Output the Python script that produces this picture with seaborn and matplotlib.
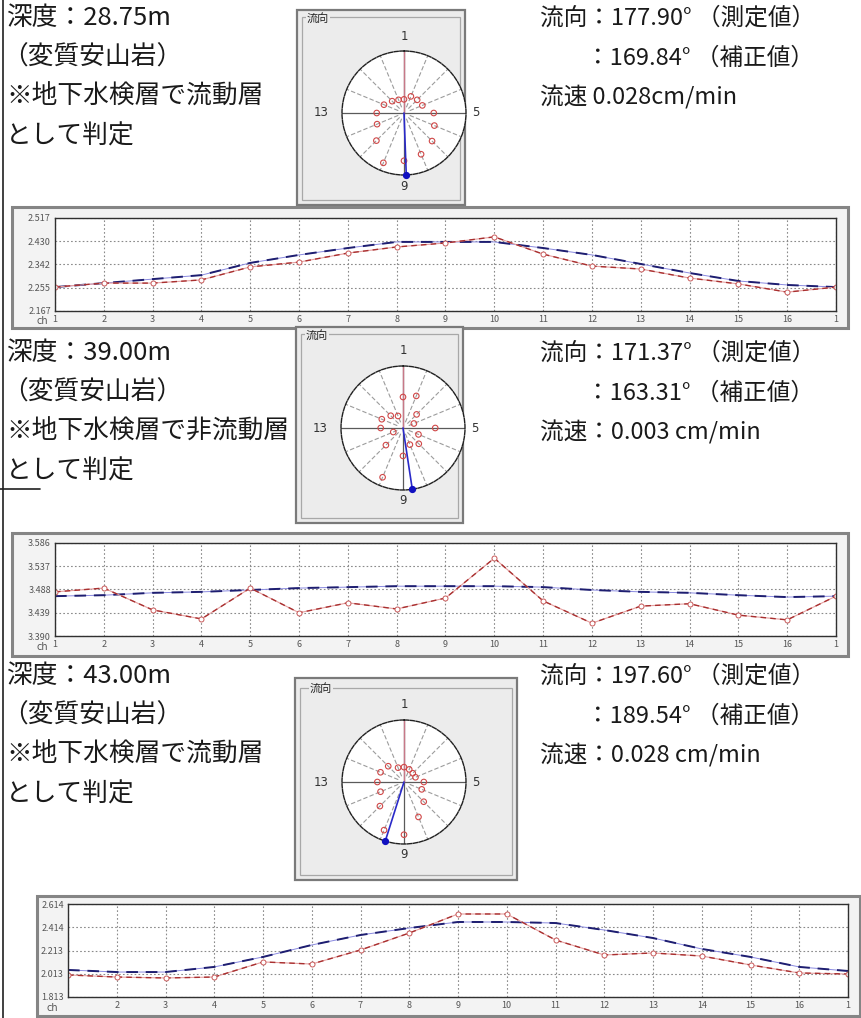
import numpy as np
import pandas as pd
import matplotlib
matplotlib.use("Agg")
import matplotlib.pyplot as plt
import seaborn as sns
from matplotlib.patches import Rectangle
from matplotlib.lines import Line2D

# ---------------------------------------------------------------- data
channel_labels = [str(c) for c in range(1, 17)] + ["1"]

# depth 28.75 m
red_1 = [2.257, 2.272, 2.272, 2.284, 2.333, 2.351, 2.385, 2.408, 2.423,
         2.446, 2.381, 2.336, 2.325, 2.291, 2.269, 2.238, 2.257]
blue_1 = [2.257, 2.272, 2.287, 2.302, 2.348, 2.378, 2.404, 2.427, 2.427,
          2.427, 2.404, 2.378, 2.344, 2.310, 2.280, 2.265, 2.257]
yticks_1 = [2.167, 2.255, 2.342, 2.430, 2.517]

# depth 39.00 m
red_2 = [3.483, 3.491, 3.445, 3.426, 3.491, 3.439, 3.460, 3.447, 3.470,
         3.554, 3.464, 3.417, 3.453, 3.458, 3.434, 3.424, 3.474]
blue_2 = [3.474, 3.476, 3.481, 3.483, 3.487, 3.491, 3.493, 3.495, 3.495,
          3.495, 3.493, 3.487, 3.483, 3.481, 3.476, 3.472, 3.474]
yticks_2 = [3.390, 3.439, 3.488, 3.537, 3.586]

# depth 43.00 m
red_3 = [2.003, 1.985, 1.977, 1.985, 2.115, 2.097, 2.218, 2.364, 2.528,
         2.528, 2.304, 2.175, 2.192, 2.166, 2.089, 2.020, 2.011]
blue_3 = [2.046, 2.028, 2.028, 2.072, 2.158, 2.261, 2.347, 2.407, 2.459,
          2.459, 2.450, 2.390, 2.321, 2.227, 2.158, 2.072, 2.037]
yticks_3 = [1.813, 2.013, 2.213, 2.414, 2.614]

# rose diagrams: relative response of channels 1-16 and flow direction
rose_1 = [0.22, 0.29, 0.30, 0.32, 0.48, 0.53, 0.64, 0.72,
          0.77, 0.87, 0.63, 0.47, 0.44, 0.35, 0.27, 0.23]
rose_2 = [0.50, 0.56, 0.31, 0.19, 0.52, 0.27, 0.36, 0.29,
          0.45, 0.86, 0.39, 0.17, 0.36, 0.37, 0.28, 0.21]
rose_3 = [0.24, 0.22, 0.20, 0.20, 0.32, 0.31, 0.45, 0.61,
          0.85, 0.84, 0.55, 0.41, 0.43, 0.41, 0.36, 0.25]
flow_measured = [177.90, 171.37, 197.60]
flow_corrected = [169.84, 163.31, 189.54]
flow_speed = ["0.028cm/min", "0.003 cm/min", "0.028 cm/min"]
speed_prefix = ["流速 ", "流速：", "流速："]

depths = ["28.75m", "39.00m", "43.00m"]
rock = "（変質安山岩）"
judgements = ["※地下水検層で流動層", "※地下水検層で非流動層", "※地下水検層で流動層"]
judge_tail = "として判定"
rose_title = "流向"
cardinal = ["1", "5", "9", "13"]

# ---------------------------------------------------------------- figure
sns.set_theme(style="white")
plt.rcParams["font.family"] = ["Noto Sans CJK JP", "DejaVu Sans"]

W, H = 862, 1018
fig = plt.figure(figsize=(W / 100, H / 100), dpi=100)
fig.patch.set_facecolor("white")


def frac(x0, y0, x1, y1):
    return [x0 / W, 1 - y1 / H, (x1 - x0) / W, (y1 - y0) / H]


def add_rect(x0, y0, x1, y1, **kw):
    r = Rectangle((x0 / W, 1 - y1 / H), (x1 - x0) / W, (y1 - y0) / H,
                  transform=fig.transFigure, **kw)
    fig.add_artist(r)
    return r


def ftext(x, y, s, **kw):
    return fig.text(x / W, 1 - y / H, s, **kw)


def fline(xs, ys, **kw):
    fig.add_artist(Line2D([x / W for x in xs], [1 - y / H for y in ys],
                          transform=fig.transFigure, **kw))


TXT_L = dict(fontsize=18.5, color="#1a1a1a", va="center", ha="left")
TXT_R = dict(fontsize=17, color="#1a1a1a", va="center", ha="left")


def draw_profile(box, plot, red, blue, yticks, ch_xy, label_first=True):
    add_rect(*box, facecolor="#f3f3f3", edgecolor="#858585", lw=2.2, zorder=-2)
    ax = fig.add_axes(frac(*plot))
    ax.set_facecolor("white")
    df = pd.DataFrame({"ch": np.arange(1, 18), "measured": red, "fitted": blue})
    sns.lineplot(data=df, x="ch", y="fitted", ax=ax, color="#8a8ae0", lw=0.7)
    sns.lineplot(data=df, x="ch", y="fitted", ax=ax, color="#1e1e70", lw=1.4,
                 linestyle=(0, (6, 4)))
    sns.lineplot(data=df, x="ch", y="measured", ax=ax, color="#e6a0a0", lw=0.8)
    sns.lineplot(data=df, x="ch", y="measured", ax=ax, color="#a83030", lw=1.0,
                 linestyle=(0, (4, 3)), marker="o", ms=3.6, mfc="white",
                 mec="#c85a5a", mew=0.7)
    ax.set_xlim(1, 17)
    ax.set_ylim(yticks[0], yticks[-1])
    ax.set_xticks(np.arange(1, 18))
    labels = list(channel_labels)
    if not label_first:
        labels[0] = ""
    ax.set_xticklabels(labels)
    ax.set_yticks(yticks)
    ax.set_yticklabels([f"{v:.3f}" for v in yticks])
    ax.set_xlabel("")
    ax.set_ylabel("")
    ax.grid(True, ls=(0, (1.5, 2)), lw=0.8, color="#8a8a8a")
    for sp in ax.spines.values():
        sp.set_color("#303030")
        sp.set_linewidth(1.0)
    ax.tick_params(length=0, labelsize=6.5, colors="#555555", pad=3)
    ftext(ch_xy[0], ch_xy[1], "ch", fontsize=7, color="#555555",
          ha="center", va="center", family="DejaVu Sans")
    return ax


def draw_rose(panel, inner, center, radii, flow, title_xy):
    add_rect(*panel, facecolor="#ececec", edgecolor="#7a7a7a", lw=1.6, zorder=-2)
    add_rect(*inner, facecolor="none", edgecolor="#a8a8a8", lw=0.9, zorder=-1)
    ftext(title_xy[0], title_xy[1], rose_title, fontsize=8, color="#222222",
          ha="left", va="center",
          bbox=dict(facecolor="#ececec", edgecolor="none", pad=0.5))
    cx, cy = center
    r = 62
    ax = fig.add_axes(frac(cx - r, cy - r, cx + r, cy + r), projection="polar")
    ax.set_theta_zero_location("N")
    ax.set_theta_direction(-1)
    ax.set_facecolor("white")
    ax.grid(False)
    ax.set_xticks([])
    ax.set_yticks([])
    ax.spines["polar"].set_linestyle((0, (3, 1.2)))
    ax.spines["polar"].set_color("#202020")
    ax.spines["polar"].set_linewidth(1.0)
    for k in range(16):
        th = np.deg2rad(22.5 * k)
        if k % 4 == 0:
            ax.plot([th, th], [0, 1], color="#5a5a5a", lw=0.9)
        else:
            ax.plot([th, th], [0.1, 1], color="#9c9c9c", lw=0.8,
                    ls=(0, (4, 2)))
    ax.plot([0, 0], [0, 1], color="#c87888", lw=1.0)
    theta = np.deg2rad(22.5 * np.arange(16))
    sns.scatterplot(x=theta, y=radii, ax=ax, marker="o", s=16,
                    facecolor="none", edgecolor="#d04848", linewidth=0.8,
                    zorder=4)
    fth = np.deg2rad(flow)
    ax.plot([fth, fth], [0, 1], color="#2a2ac8", lw=1.2, zorder=5)
    ax.plot([fth], [1], "o", color="#1010c0", ms=4.2, clip_on=False, zorder=6)
    ax.set_ylim(0, 1)
    ax.set_xlabel("")
    ax.set_ylabel("")
    lab = dict(fontsize=8.5, color="#333333", ha="center", va="center",
               family="DejaVu Sans")
    ftext(cx, cy - r - 15, cardinal[0], **lab)
    ftext(cx + r + 10, cy, cardinal[1], **lab)
    ftext(cx, cy + r + 11, cardinal[2], **lab)
    ftext(cx - r - 21, cy, cardinal[3], **lab)


def draw_text_block(top, i):
    rows = [top, top + 40, top + 79, top + 119]
    ftext(6, rows[0], f"深度：{depths[i]}", **TXT_L)
    ftext(2, rows[1], rock, **TXT_L)
    ftext(6, rows[2], judgements[i], **TXT_L)
    ftext(6, rows[3], judge_tail, **TXT_L)
    ftext(540, rows[0], f"流向：{flow_measured[i]:.2f}° （測定値）", **TXT_R)
    ftext(586, rows[1], f"：{flow_corrected[i]:.2f}° （補正値）", **TXT_R)
    ftext(540, rows[2], f"{speed_prefix[i]}{flow_speed[i]}", **TXT_R)


# left frame line
fline([3, 3], [0, 1018], color="#202020", lw=1.2)
fline([0, 40], [489, 489], color="#202020", lw=1.2)

# block 1
draw_text_block(18, 0)
draw_rose((297, 10, 465, 205), (302, 17, 460, 200), (404, 113), rose_1,
          flow_measured[0], (307, 18))
draw_profile((12, 207, 848, 328), (55, 218, 836, 311), red_1, blue_1,
             yticks_1, (42, 321))

# block 2
draw_text_block(353, 1)
draw_rose((296, 327, 463, 523), (301, 334, 458, 518), (403, 428), rose_2,
          flow_measured[1], (306, 335))
draw_profile((12, 533, 848, 656), (55, 543, 836, 636), red_2, blue_2,
             yticks_2, (42, 647))

# block 3
draw_text_block(676, 2)
draw_rose((295, 678, 517, 880), (300, 688, 512, 875), (404, 782), rose_3,
          flow_measured[2], (310, 688))
draw_profile((37, 896, 860, 1016), (68, 904, 848, 997), red_3, blue_3,
             yticks_3, (52, 1008), label_first=False)

fig.savefig("out.png", dpi=100, facecolor="white")
